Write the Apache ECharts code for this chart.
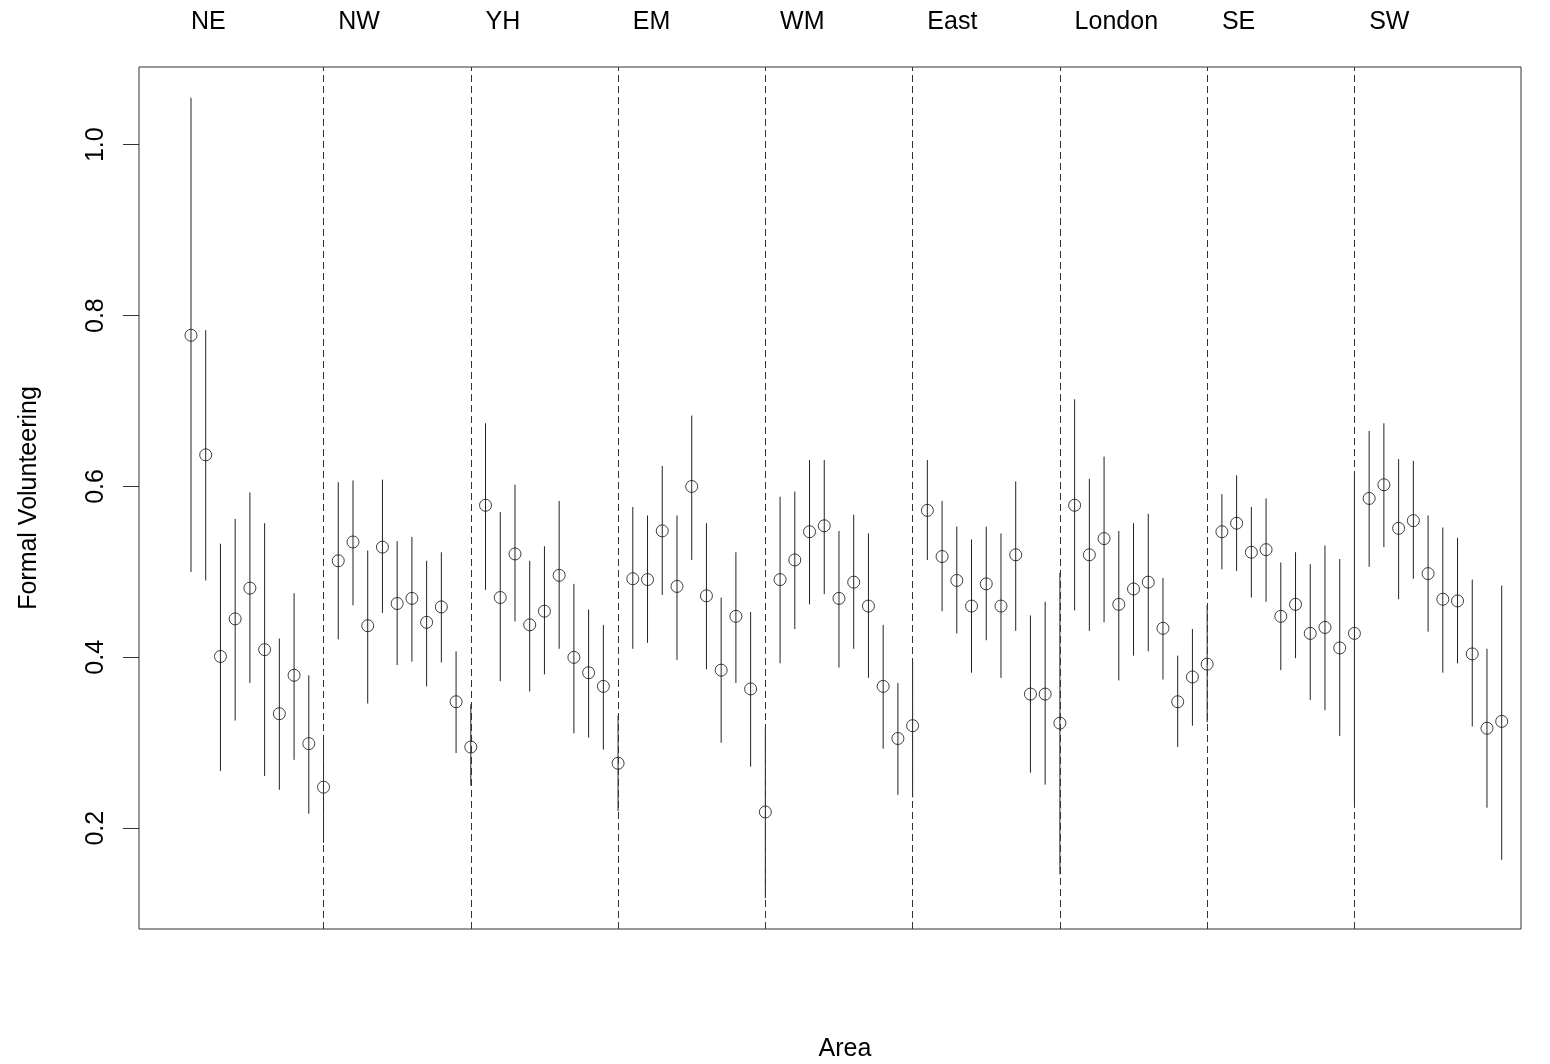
<!DOCTYPE html>
<html><head><meta charset="utf-8">
<script src="https://cdn.jsdelivr.net/npm/echarts@6/dist/echarts.min.js"></script>
<style>html,body{margin:0;padding:0;background:#fff}#c{width:1550px;height:1064px}</style>
</head><body><div id="c"></div>
<script>
const regions = ['NE','NW','YH','EM','WM','East','London','SE','SW'];
const perRegion = 10;
const means = [
  0.777,0.637,0.401,0.445,0.481,0.409,0.334,0.379,0.299,0.248,
  0.513,0.535,0.437,0.529,0.463,0.469,0.441,0.459,0.348,0.295,
  0.578,0.470,0.521,0.438,0.454,0.496,0.400,0.382,0.366,0.276,
  0.492,0.491,0.548,0.483,0.600,0.472,0.385,0.448,0.363,0.219,
  0.491,0.514,0.547,0.554,0.469,0.488,0.460,0.366,0.305,0.320,
  0.572,0.518,0.490,0.460,0.486,0.460,0.520,0.357,0.357,0.323,
  0.578,0.520,0.539,0.462,0.480,0.488,0.434,0.348,0.377,0.392,
  0.547,0.557,0.523,0.526,0.448,0.462,0.428,0.435,0.411,0.428,
  0.586,0.602,0.551,0.560,0.498,0.468,0.466,0.404,0.317,0.325
];
const lower = [
  0.500,0.490,0.267,0.326,0.370,0.261,0.245,0.280,0.217,0.183,
  0.421,0.461,0.346,0.452,0.391,0.395,0.366,0.394,0.288,0.250,
  0.479,0.372,0.442,0.360,0.380,0.410,0.311,0.306,0.292,0.220,
  0.410,0.417,0.473,0.397,0.514,0.386,0.300,0.370,0.272,0.118,
  0.393,0.433,0.462,0.474,0.388,0.410,0.376,0.293,0.239,0.236,
  0.514,0.454,0.428,0.382,0.420,0.376,0.431,0.265,0.251,0.146,
  0.455,0.431,0.441,0.373,0.402,0.407,0.374,0.295,0.320,0.324,
  0.503,0.501,0.470,0.465,0.385,0.399,0.350,0.338,0.308,0.230,
  0.506,0.529,0.468,0.492,0.430,0.382,0.393,0.319,0.224,0.163
];
const upper = [
  1.055,0.783,0.533,0.562,0.593,0.557,0.422,0.475,0.379,0.309,
  0.605,0.607,0.525,0.608,0.536,0.541,0.513,0.523,0.407,0.345,
  0.674,0.570,0.602,0.513,0.530,0.583,0.486,0.456,0.438,0.332,
  0.576,0.566,0.624,0.566,0.683,0.557,0.470,0.523,0.453,0.318,
  0.588,0.594,0.631,0.631,0.548,0.567,0.545,0.438,0.370,0.395,
  0.631,0.583,0.553,0.538,0.553,0.545,0.606,0.449,0.465,0.499,
  0.702,0.609,0.635,0.548,0.557,0.568,0.493,0.402,0.433,0.461,
  0.591,0.613,0.576,0.586,0.511,0.523,0.509,0.531,0.515,0.616,
  0.665,0.674,0.632,0.630,0.566,0.552,0.540,0.491,0.410,0.484
];
const yTicks = [0.2, 0.4, 0.6, 0.8, 1.0];
const dividers = [10, 20, 30, 40, 50, 60, 70, 80];
const xTitle = 'Area';
const yTitle = 'Formal Volunteering';

const FONT = '"Liberation Sans", Arial, Helvetica, sans-serif';
const chart = echarts.init(document.getElementById('c'), null, {renderer: 'canvas'});
const pts = means.map((m, i) => [i + 1, m]);
const bars = means.map((m, i) => [i + 1, lower[i], upper[i]]);

const option = {
  animation: false,
  backgroundColor: '#fff',
  grid: {left: 139, top: 67, right: 29, bottom: 135, show: true, borderColor: '#333', borderWidth: 1, backgroundColor: 'transparent'},
  xAxis: {
    type: 'value', min: -2.53, max: 91.31,
    axisLine: {show: false, onZero: false}, axisTick: {show: false}, axisLabel: {show: false}, splitLine: {show: false}
  },
  yAxis: {
    type: 'value', min: 0.082, max: 1.091,
    axisLine: {show: false, onZero: false},
    axisTick: {show: true, customValues: yTicks, length: 16, inside: false, lineStyle: {color: '#333', width: 1}},
    axisLabel: {customValues: yTicks, rotate: 90, margin: 30, formatter: v => v.toFixed(1),
                fontSize: 25, color: '#000', fontFamily: FONT},
    splitLine: {show: false},
    name: yTitle, nameLocation: 'middle', nameGap: 97, nameMoveOverlap: false,
    nameTextStyle: {fontSize: 25, color: '#000', fontFamily: FONT}
  },
  series: [
    {
      type: 'custom',
      data: bars,
      encode: {x: 0, y: [1, 2]},
      clip: false,
      renderItem: (params, api) => {
        const x = api.value(0);
        const p1 = api.coord([x, api.value(1)]);
        const p2 = api.coord([x, api.value(2)]);
        return {type: 'line', shape: {x1: p1[0], y1: p1[1], x2: p2[0], y2: p2[1]},
                style: {stroke: '#222', lineWidth: 1}};
      },
      z: 2
    },
    {
      type: 'scatter',
      data: pts,
      symbol: 'circle',
      symbolSize: 12,
      itemStyle: {color: 'transparent', borderColor: '#111', borderWidth: 1},
      markLine: {
        silent: true, symbol: 'none', label: {show: false},
        lineStyle: {type: [7, 4], color: '#333', width: 1},
        data: dividers.map(d => ({xAxis: d}))
      },
      z: 3
    }
  ]
};
chart.setOption(option);

const graphics = regions.map((r, k) => {
  const px = chart.convertToPixel({gridIndex: 0}, [k * perRegion + 1, 0.5])[0];
  return {type: 'text', x: px, y: 22,
          style: {text: r, fontSize: 25, fontFamily: FONT, fill: '#000', align: 'left', verticalAlign: 'middle'}};
});
graphics.push({type: 'text', x: 845, y: 1049,
  style: {text: xTitle, fontSize: 25, fontFamily: FONT, fill: '#000', align: 'center', verticalAlign: 'middle'}});
chart.setOption({graphic: graphics});
</script>
</body></html>
